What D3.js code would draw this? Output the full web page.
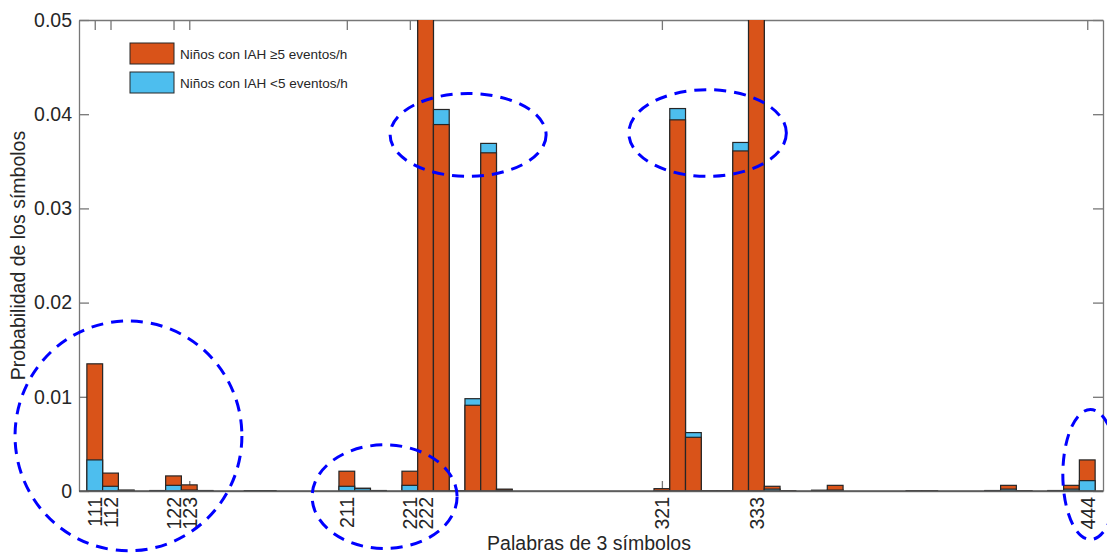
<!DOCTYPE html>
<html>
<head>
<meta charset="utf-8">
<script src="https://cdn.jsdelivr.net/npm/d3@7"></script>
<style>
    body { margin: 0; background: #fff; }
    text { font-family: "Liberation Sans", Arial, sans-serif; fill: #262626; }
</style>
</head>
<body>
<div id="chart"></div>
<script>
(function () {

    // 64 words of 3 symbols, 111 ... 444
    var words = [];
    [1, 2, 3, 4].forEach(function (a) {
        [1, 2, 3, 4].forEach(function (b) {
            [1, 2, 3, 4].forEach(function (c) {
                words.push('' + a + b + c);
            });
        });
    });

    // (222 and 333 go off the top)
    var ahiHigh = [
        0.0135, 0.0019, 0.0001, 0, 0.00005, 0.0016, 0.00065, 0.00005,
        0, 0, 0.00003, 0.00003, 0, 0, 0, 0,
        0.0021, 0.0003, 0.00005, 0, 0.0021, 0.065, 0.0389, 0.00003,
        0.0091, 0.0359, 0.0002, 0, 0, 0, 0, 0,
        0, 0, 0, 0, 0.00025, 0.0394, 0.0057, 0.00003,
        0.00003, 0.0361, 0.065, 0.0005, 0.00003, 0, 0.00008, 0.0006,
        0, 0, 0, 0, 0.00003, 0.00003, 0, 0,
        0, 0.00005, 0.0006, 0.00003, 0, 0.00005, 0.0006, 0.0033
    ];
    var ahiLow = [
        0.0033, 0.0005, 0.00005, 0, 0.00002, 0.0006, 0.0001, 0.00002,
        0, 0, 0.00002, 0.00001, 0, 0, 0, 0,
        0.0005, 0.00025, 0.00002, 0, 0.0006, 0.07, 0.0405, 0,
        0.0098, 0.0369, 0.0001, 0, 0, 0, 0, 0,
        0, 0, 0, 0, 0.00005, 0.0406, 0.0062, 0,
        0, 0.0370, 0.07, 0.0002, 0, 0, 0.00005, 0.0001,
        0, 0, 0, 0, 0, 0, 0, 0,
        0, 0.00002, 0.0002, 0, 0, 0.00002, 0.0002, 0.0011
    ];

    var seriesNames = ['Niños con IAH \u22655 eventos/h', 'Niños con IAH <5 eventos/h'];
    var seriesColors = ['#D95319', '#4DBEEE'];

    var tickWords = ['111', '112', '122', '123', '211', '221', '222', '321', '333', '444'];
    var yTicks = [0, 0.01, 0.02, 0.03, 0.04, 0.05];

    // dashed ellipses: centre word index / value, radii in the same units
    var rings = [
        {cx: 2.14, cy: 0.00585, rx: 7.2, ry: 0.0122},
        {cx: 18.4, cy: -0.0006, rx: 4.6, ry: 0.0055},
        {cx: 23.7, cy: 0.0378, rx: 4.95, ry: 0.0044},
        {cx: 38.9, cy: 0.0380, rx: 5.0, ry: 0.0046},
        {cx: 63.2, cy: 0.00175, rx: 1.75, ry: 0.0069}
    ];

    var width = 1107,
        height = 553,
        margin = {top: 20, right: 4, bottom: 62, left: 79},
        tickLen = 10;

    var x = d3.scaleLinear()
            .domain([-1, words.length])
            .range([margin.left, width - margin.right]);
    var y = d3.scaleLinear()
            .domain([0, 0.05])
            .range([height - margin.bottom, margin.top]);

    var svg = d3.select('#chart')
            .append('svg')
            .attr('width', width)
            .attr('height', height);

    svg.append('defs').append('clipPath')
        .attr('id', 'plot-clip')
        .append('rect')
        .attr('x', x.range()[0])
        .attr('y', y.range()[1])
        .attr('width', x.range()[1] - x.range()[0])
        .attr('height', y.range()[0] - y.range()[1]);

    var axisColor = '#777';
    var tickIdx = tickWords.map(function (w) { return words.indexOf(w); });

    // axes (inward ticks, box on)
    var gx = svg.append('g')
            .attr('transform', 'translate(0,' + y(0) + ')')
            .call(d3.axisBottom(x).tickValues(tickIdx)
                .tickSizeInner(-tickLen).tickSizeOuter(0)
                .tickFormat(function (i) { return words[i]; }));
    gx.selectAll('text')
        .attr('transform', 'rotate(-90)')
        .attr('x', -6)
        .attr('y', 0)
        .attr('dy', '0.36em')
        .style('text-anchor', 'end')
        .style('font-size', '19.5px');

    svg.append('g')
        .attr('transform', 'translate(0,' + y(0.05) + ')')
        .call(d3.axisTop(x).tickValues(tickIdx)
            .tickSizeInner(-tickLen).tickSizeOuter(0).tickFormat(''));

    svg.append('g')
        .attr('transform', 'translate(' + x.range()[0] + ',0)')
        .call(d3.axisLeft(y).tickValues(yTicks)
            .tickSizeInner(-tickLen).tickSizeOuter(0)
            .tickPadding(7)
            .tickFormat(function (d) { return d === 0 ? '0' : d3.format('.2f')(d); }))
        .selectAll('text')
        .style('font-size', '19.5px');

    svg.append('g')
        .attr('transform', 'translate(' + x.range()[1] + ',0)')
        .call(d3.axisRight(y).tickValues(yTicks)
            .tickSizeInner(-tickLen).tickSizeOuter(0).tickFormat(''));

    svg.selectAll('.domain').style('stroke', axisColor).style('stroke-width', 1.3);
    svg.selectAll('.tick line').style('stroke', axisColor).style('stroke-width', 1.3);
    svg.selectAll('.tick text').style('fill', '#262626');

    // bars: both series start at zero, the taller one drawn first
    var cells = [];
    words.forEach(function (w, i) {
        cells.push({i: i, s: 0, v: ahiHigh[i]});
        cells.push({i: i, s: 1, v: ahiLow[i]});
    });
    cells.sort(function (a, b) { return a.i - b.i || b.v - a.v; });

    svg.append('g')
        .attr('clip-path', 'url(#plot-clip)')
        .selectAll('rect')
        .data(cells.filter(function (d) { return d.v > 0; }))
        .enter()
        .append('rect')
        .attr('x', function (d) { return x(d.i - 0.5); })
        .attr('width', function (d) { return x(d.i + 0.5) - x(d.i - 0.5); })
        .attr('y', function (d) { return y(d.v); })
        .attr('height', function (d) { return y(0) - y(d.v); })
        .style('fill', function (d) { return seriesColors[d.s]; })
        .style('stroke', '#262626')
        .style('stroke-width', 1.2);

    // baseline
    svg.append('line')
        .attr('x1', x.range()[0]).attr('x2', x.range()[1])
        .attr('y1', y(0)).attr('y2', y(0))
        .style('stroke', '#555')
        .style('stroke-width', 1.5);

    // legend
    var legend = svg.append('g').attr('transform', 'translate(130,43)');
    var item = legend.selectAll('g')
            .data(seriesNames)
            .enter()
            .append('g')
            .attr('transform', function (d, k) { return 'translate(0,' + k * 29 + ')'; });
    item.append('rect')
        .attr('width', 44)
        .attr('height', 21)
        .style('fill', function (d, k) { return seriesColors[k]; })
        .style('stroke', '#262626')
        .style('stroke-width', 1);
    item.append('text')
        .attr('x', 50)
        .attr('y', 16)
        .style('font-size', '13.5px')
        .text(function (d) { return d; });

    // axis titles
    svg.append('text')
        .attr('x', 589)
        .attr('y', 550)
        .style('text-anchor', 'middle')
        .style('font-size', '19.5px')
        .text('Palabras de 3 símbolos');

    svg.append('text')
        .attr('transform', 'translate(25,' + (y(0) + y(0.05)) / 2 + ') rotate(-90)')
        .style('text-anchor', 'middle')
        .style('font-size', '19.5px')
        .text('Probabilidad de los símbolos');

    // dashed rings
    var k = x(1) - x(0);
    svg.append('g')
        .selectAll('ellipse')
        .data(rings)
        .enter()
        .append('ellipse')
        .attr('cx', function (d) { return x(d.cx); })
        .attr('cy', function (d) { return y(d.cy); })
        .attr('rx', function (d) { return d.rx * k; })
        .attr('ry', function (d) { return y(0) - y(d.ry); })
        .style('fill', 'none')
        .style('stroke', '#0000ff')
        .style('stroke-width', 3)
        .style('stroke-dasharray', '12,8');
}());
</script>
</body>
</html>
